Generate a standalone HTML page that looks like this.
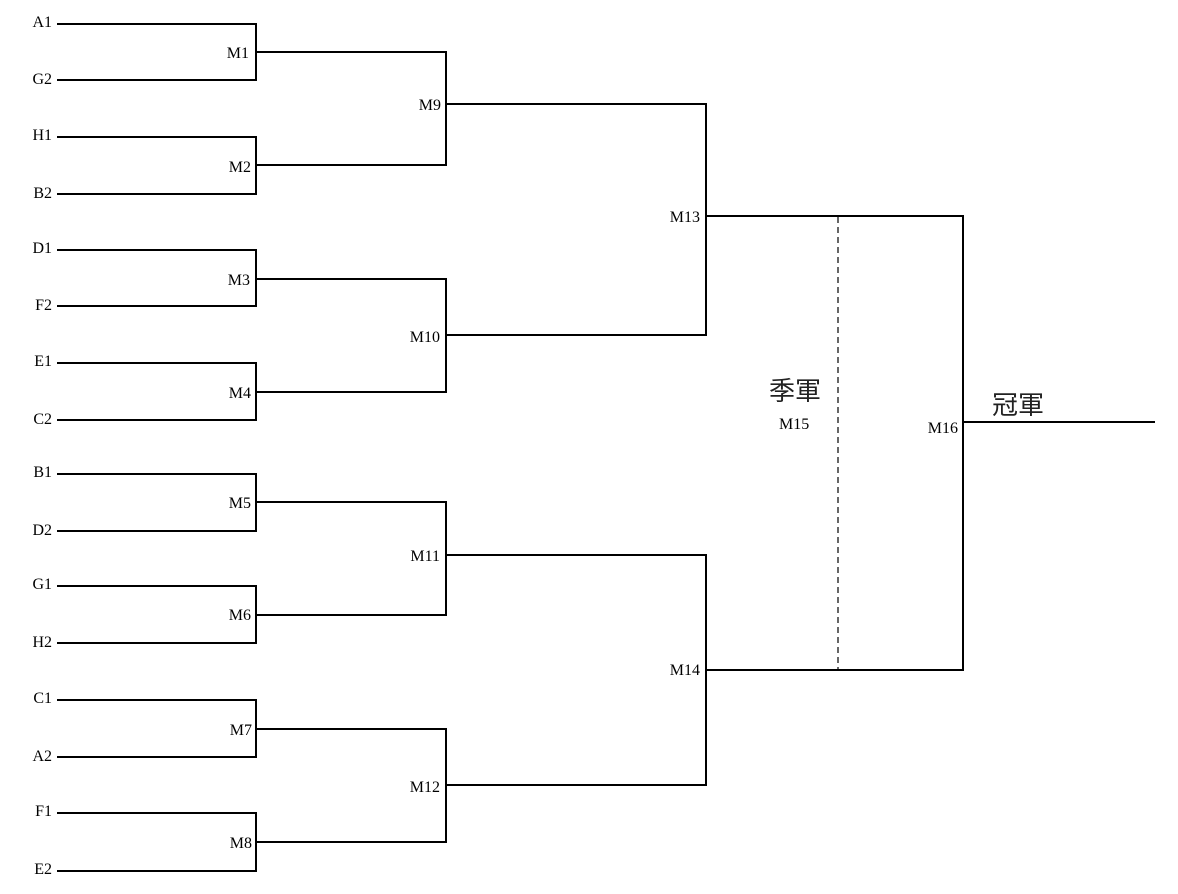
<!DOCTYPE html>
<html><head><meta charset="utf-8"><style>
html,body{margin:0;padding:0;background:#fff;}
svg{display:block;}
text{font-family:"Liberation Serif","Noto Serif CJK SC",serif;font-size:16px;fill:#000;}
.cjk{font-family:"Liberation Sans","Noto Sans CJK TC",sans-serif;font-size:26px;fill:#222;}
</style></head><body>
<svg width="1178" height="894" viewBox="0 0 1178 894">
<g fill="none" stroke="#000" stroke-width="2">
<polyline points="57,24 256,24 256,80 57,80"/>
<polyline points="57,137 256,137 256,194 57,194"/>
<polyline points="57,250 256,250 256,306 57,306"/>
<polyline points="57,363 256,363 256,420 57,420"/>
<polyline points="57,474 256,474 256,531 57,531"/>
<polyline points="57,586 256,586 256,643 57,643"/>
<polyline points="57,700 256,700 256,757 57,757"/>
<polyline points="57,813 256,813 256,871 57,871"/>
<polyline points="256,52 446,52 446,165 256,165"/>
<polyline points="256,279 446,279 446,392 256,392"/>
<polyline points="256,502 446,502 446,615 256,615"/>
<polyline points="256,729 446,729 446,842 256,842"/>
<polyline points="446,104 706,104 706,335 446,335"/>
<polyline points="446,555 706,555 706,785 446,785"/>
<polyline points="706,216 963,216 963,670 706,670"/>
<line x1="963" y1="422" x2="1155" y2="422"/>
</g>
<line x1="838" y1="217" x2="838" y2="670" stroke="#000" stroke-width="1.2" stroke-dasharray="6,4"/>
<g text-anchor="end">
<text x="52" y="27">A1</text><text x="52" y="84">G2</text>
<text x="52" y="140">H1</text><text x="52" y="198">B2</text>
<text x="52" y="253">D1</text><text x="52" y="310">F2</text>
<text x="52" y="366">E1</text><text x="52" y="424">C2</text>
<text x="52" y="477">B1</text><text x="52" y="535">D2</text>
<text x="52" y="589">G1</text><text x="52" y="647">H2</text>
<text x="52" y="703">C1</text><text x="52" y="761">A2</text>
<text x="52" y="816">F1</text><text x="52" y="874">E2</text>
<text x="249" y="58">M1</text><text x="251" y="172">M2</text>
<text x="250" y="285">M3</text><text x="251" y="398">M4</text>
<text x="251" y="508">M5</text><text x="251" y="620">M6</text>
<text x="252" y="735">M7</text><text x="252" y="848">M8</text>
<text x="441" y="110">M9</text><text x="440" y="342">M10</text>
<text x="440" y="561">M11</text><text x="440" y="792">M12</text>
<text x="700" y="222">M13</text><text x="700" y="675">M14</text>
<text x="958" y="433">M16</text>
</g>
<text x="779" y="429">M15</text>
<text class="cjk" x="769" y="400">季軍</text>
<text class="cjk" x="992" y="414">冠軍</text>
</svg>
</body></html>
